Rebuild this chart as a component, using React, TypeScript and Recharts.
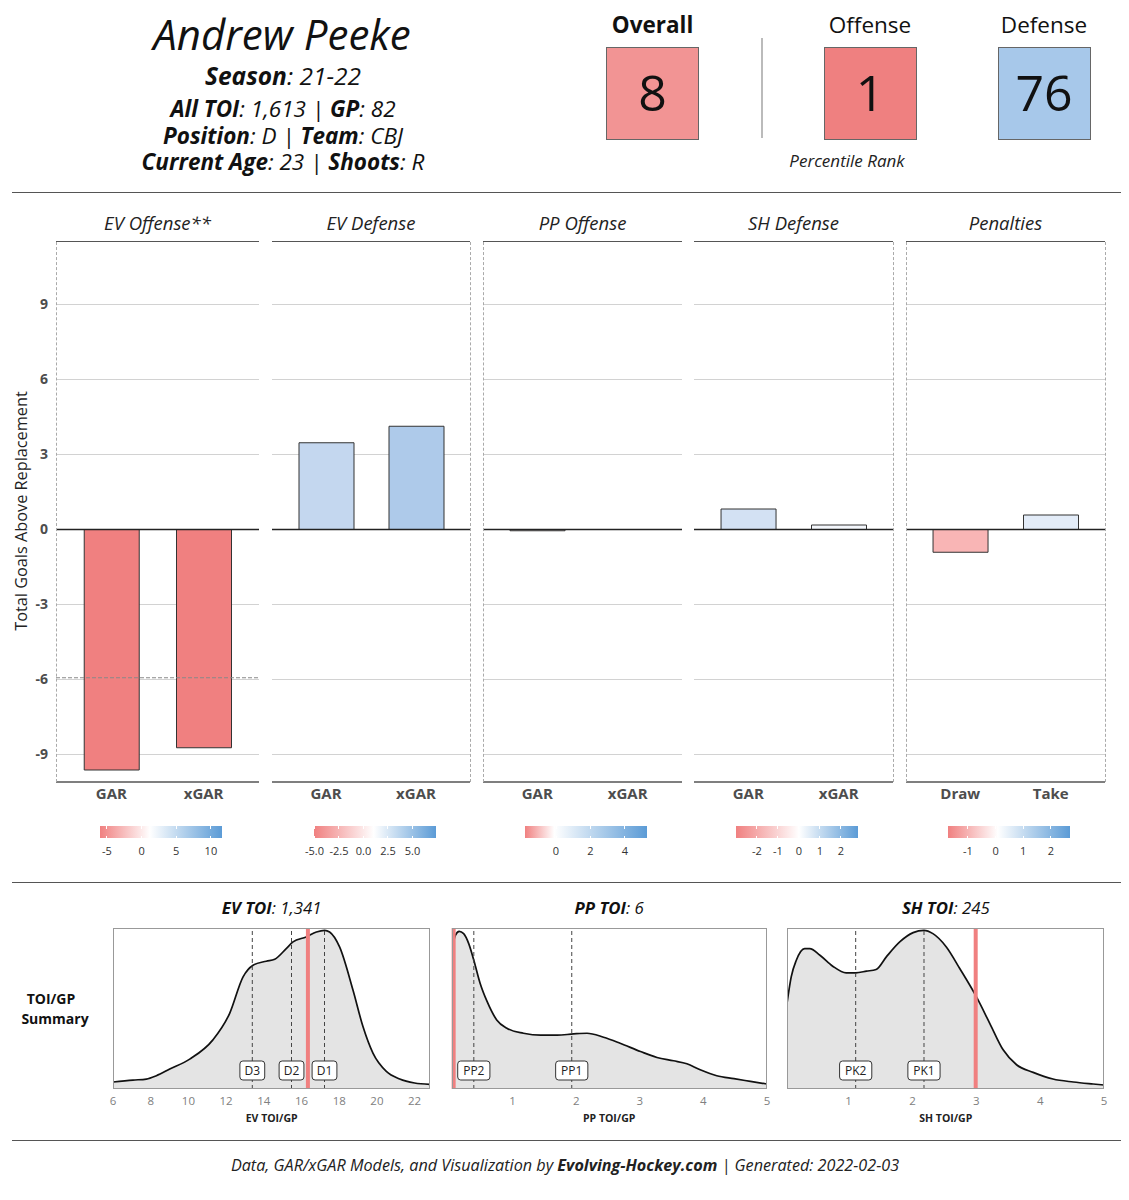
import React from "react"
import { BarChart, Bar, Cell, XAxis, YAxis, CartesianGrid, ReferenceLine, AreaChart, Area } from "recharts"

const FONT = "'Open Sans', sans-serif"

// ---- header ----
const playerName = "Andrew Peeke"
const infoLines: [string, string][][] = [
  [["Season", "21-22"]],
  [["All TOI", "1,613"], ["GP", "82"]],
  [["Position", "D"], ["Team", "CBJ"]],
  [["Current Age", "23"], ["Shoots", "R"]],
]
const rankLabels = ["Overall", "Offense", "Defense"]
const rankValues = [8, 1, 76]
const rankFills = ["#f29494", "#ef8080", "#a7c8ea"]

// ---- GAR panels ----
const panelTitles = ["EV Offense**", "EV Defense", "PP Offense", "SH Defense", "Penalties"]
const panelCats = [
  ["GAR", "xGAR"],
  ["GAR", "xGAR"],
  ["GAR", "xGAR"],
  ["GAR", "xGAR"],
  ["Draw", "Take"],
]
const panelValues = [
  [-9.62, -8.73],
  [3.47, 4.13],
  [-0.05, 0.0],
  [0.82, 0.18],
  [-0.91, 0.58],
]
const panelFills = [
  ["#f08080", "#f08080"],
  ["#c4d7ef", "#aecaea"],
  ["#fbeaea", "#ffffff"],
  ["#d3e1f3", "#f4f7fc"],
  ["#f9b5b5", "#e3ecf8"],
]
const yTicks = [-9, -6, -3, 0, 3, 6, 9]
const yDomain = [-10.1, 11.5]
const evOffenseRef = -5.93

// colour legends under each panel
const legendTicks = [
  [-5, 0, 5, 10],
  [-5, -2.5, 0, 2.5, 5],
  [0, 2, 4],
  [-2, -1, 0, 1, 2],
  [-1, 0, 1, 2],
]
const legendLimits = [
  [-6.0, 11.6],
  [-5.1, 7.35],
  [-1.8, 5.28],
  [-3.0, 2.81],
  [-1.72, 2.69],
]
const legendMid = [1.2, 1.0, -0.1, 0.0, 0.08]

// ---- TOI/GP density panels ----
const densTitles = [
  ["EV TOI", "1,341"],
  ["PP TOI", "6"],
  ["SH TOI", "245"],
]
const densAxisTitles = ["EV TOI/GP", "PP TOI/GP", "SH TOI/GP"]
const evX = [6.0, 7.06, 7.77, 8.3, 9.01, 10.07, 11.3, 12.19, 12.9, 13.43, 14.13, 14.58, 15.19, 15.55, 16.25, 16.79, 17.23, 17.49, 18.02, 18.73, 19.26, 19.79, 20.5, 21.21, 22.0, 22.8]
const evD = [0.021, 0.027, 0.03, 0.04, 0.06, 0.09, 0.148, 0.228, 0.338, 0.373, 0.385, 0.391, 0.423, 0.443, 0.458, 0.473, 0.478, 0.473, 0.428, 0.298, 0.188, 0.108, 0.053, 0.03, 0.018, 0.014]
const ppX = [0.047, 0.1, 0.16, 0.23, 0.31, 0.39, 0.49, 0.6, 0.75, 0.91, 1.17, 1.44, 1.7, 1.96, 2.17, 2.43, 2.69, 3.01, 3.27, 3.53, 3.74, 3.95, 4.21, 4.48, 4.74, 5.0]
const ppD = [0.423, 0.463, 0.475, 0.468, 0.438, 0.388, 0.318, 0.263, 0.208, 0.183, 0.168, 0.162, 0.162, 0.166, 0.168, 0.156, 0.138, 0.113, 0.095, 0.085, 0.076, 0.058, 0.04, 0.031, 0.023, 0.015]
const shX = [0.034, 0.1, 0.18, 0.31, 0.39, 0.55, 0.75, 0.96, 1.11, 1.28, 1.43, 1.59, 1.8, 2.01, 2.18, 2.32, 2.53, 2.74, 3.0, 3.21, 3.42, 3.63, 3.89, 4.2, 4.52, 4.83, 5.0]
const shD = [0.258, 0.338, 0.388, 0.423, 0.423, 0.403, 0.37, 0.35, 0.35, 0.355, 0.36, 0.398, 0.443, 0.471, 0.478, 0.468, 0.428, 0.363, 0.278, 0.198, 0.118, 0.073, 0.05, 0.03, 0.021, 0.015, 0.012]
const densXs = [evX, ppX, shX]
const densYs = [evD, ppD, shD]
const densDomains = [
  [6, 22.8],
  [0.047, 5],
  [0.034, 5],
]
const densTicks = [
  [6, 8, 10, 12, 14, 16, 18, 20, 22],
  [1, 2, 3, 4, 5],
  [1, 2, 3, 4, 5],
]
const tierNames = [
  ["D3", "D2", "D1"],
  ["PP2", "PP1"],
  ["PK2", "PK1"],
]
const tierValues = [
  [13.39, 15.47, 17.22],
  [0.39, 1.93],
  [1.11, 2.18],
]
const playerToi = [16.34, 0.073, 2.99]

// ---- layout ----
const PANEL_X = [56, 272, 483, 694, 906]
const PANEL_W = [203, 198, 199, 199, 199]
const GROUP_EDGES = [56, 470, 483, 893, 906, 1105]
const PLOT_TOP = 242
const PLOT_H = 540
const DBOX_X = [113.3, 451.7, 787.3]
const DBOX_W = [316.7, 315, 317]
const DBOX_TOP = 928
const DBOX_H = 161

function Txt({ cx, cy, fs, w = 600, children, style }: any) {
  return (
    <div
      style={{
        position: "absolute",
        left: cx - w / 2,
        width: w,
        top: cy - 0.53 * fs,
        height: fs,
        lineHeight: `${fs}px`,
        fontSize: fs,
        textAlign: "center",
        whiteSpace: "nowrap",
        ...style,
      }}
    >
      {children}
    </div>
  )
}

function HLine({ y, x1 = 12, x2 = 1121 }: any) {
  return <div style={{ position: "absolute", left: x1, top: y, width: x2 - x1, height: 1.3, background: "#555" }} />
}

function GarPanel({ i }: { i: number }) {
  const x = PANEL_X[i]
  const w = PANEL_W[i]
  const yw = i === 0 ? 48 : 0
  const data = panelCats[i].map((c, k) => ({ name: c, value: panelValues[i][k] }))
  const pad = (w * 0.1) / 2.2
  return (
    <div style={{ position: "absolute", left: x - yw, top: PLOT_TOP }}>
      <BarChart width={w + yw} height={PLOT_H + 32} data={data} margin={{ top: 0, right: 0, bottom: 0, left: 0 }}>
        <CartesianGrid vertical={false} stroke="#d2d2d2" strokeWidth={1} horizontalValues={yTicks} />
        <YAxis
          hide={i !== 0}
          width={yw}
          type="number"
          domain={yDomain}
          ticks={yTicks}
          allowDataOverflow
          tickLine={false}
          axisLine={false}
          tick={{ fill: "#4d4d4d", fontSize: 14, fontWeight: 700, fontFamily: FONT }}
        />
        <XAxis
          dataKey="name"
          padding={{ left: pad, right: pad }}
          interval={0}
          height={32}
          tickLine={false}
          tickMargin={0}
          axisLine={{ stroke: "#555", strokeWidth: 1.5 }}
          tick={{ fill: "#4d4d4d", fontSize: 15, fontWeight: 700, fontFamily: FONT }}
        />
        {i === 0 && <ReferenceLine y={evOffenseRef} stroke="#888" strokeDasharray="4 2" />}
        <Bar dataKey="value" barSize={55} stroke="#333" strokeWidth={1} isAnimationActive={false}>
          {data.map((d, k) => (
            <Cell key={d.name} fill={panelFills[i][k]} />
          ))}
        </Bar>
        <ReferenceLine y={0} stroke="#222" strokeWidth={1.5} />
      </BarChart>
    </div>
  )
}

function ColorLegend({ i }: { i: number }) {
  const barW = 122
  const left = PANEL_X[i] + PANEL_W[i] / 2 - barW / 2 + 3.5
  const [lo, hi] = legendLimits[i]
  const pos = (v: number) => ((v - lo) / (hi - lo)) * barW
  const mid = (pos(legendMid[i]) / barW) * 100
  const dec = legendTicks[i].some((t) => !Number.isInteger(t))
  return (
    <div style={{ position: "absolute", left, top: 826, width: barW, height: 30 }}>
      <div
        style={{
          position: "absolute",
          left: 0,
          top: 0,
          width: barW,
          height: 12,
          background: `linear-gradient(to right, #f08080 0%, #ffffff ${mid}%, #5b9bd6 100%)`,
        }}
      />
      {legendTicks[i].map((t) => (
        <React.Fragment key={t}>
          <div style={{ position: "absolute", left: pos(t) - 0.5, top: 0, width: 1, height: 2.5, background: "#fff" }} />
          <div style={{ position: "absolute", left: pos(t) - 0.5, top: 9.5, width: 1, height: 2.5, background: "#fff" }} />
          <div
            style={{
              position: "absolute",
              left: pos(t) - 20,
              width: 40,
              top: 19,
              fontSize: 11,
              lineHeight: "12px",
              textAlign: "center",
              color: "#333",
            }}
          >
            {dec ? t.toFixed(1) : t}
          </div>
        </React.Fragment>
      ))}
    </div>
  )
}

function TierTag({ viewBox, text }: any) {
  if (!viewBox) return null
  const w = text.length * 7.4 + 10
  const cy = viewBox.y + viewBox.height - 18.5
  return (
    <g>
      <rect x={viewBox.x - w / 2} y={cy - 9.5} width={w} height={19} rx={3} fill="#fff" stroke="#333" strokeWidth={1} />
      <text x={viewBox.x} y={cy} dy="0.36em" textAnchor="middle" fontSize={12} fill="#222" fontFamily={FONT}>
        {text}
      </text>
    </g>
  )
}

function DensityPanel({ j }: { j: number }) {
  const bx = DBOX_X[j]
  const bw = DBOX_W[j]
  const data = densXs[j].map((x, k) => ({ x, d: densYs[j][k] }))
  const m = 14
  return (
    <>
      <Txt cx={bx + bw / 2} cy={909} fs={16.8} style={{ fontStyle: "italic", color: "#111" }}>
        <b>{densTitles[j][0]}</b>: {densTitles[j][1]}
      </Txt>
      <div style={{ position: "absolute", left: bx - m, top: DBOX_TOP }}>
        <AreaChart width={bw + 2 * m} height={DBOX_H + 24} data={data} margin={{ top: 0, right: m, bottom: 0, left: m }}>
          <XAxis
            type="number"
            dataKey="x"
            domain={densDomains[j]}
            ticks={densTicks[j]}
            allowDataOverflow
            height={24}
            tickLine={false}
            axisLine={false}
            tick={{ fontSize: 11.5, fill: "#808080", fontFamily: FONT }}
          />
          <YAxis hide type="number" domain={[0, 0.485]} allowDataOverflow />
          <Area
            type="monotone"
            dataKey="d"
            stroke="#111"
            strokeWidth={1.7}
            fill="#e4e4e4"
            fillOpacity={1}
            isAnimationActive={false}
          />
          {tierValues[j].map((v, k) => (
            <ReferenceLine
              key={tierNames[j][k]}
              x={v}
              stroke="#444"
              strokeDasharray="4 3"
              label={<TierTag text={tierNames[j][k]} />}
            />
          ))}
          <ReferenceLine x={playerToi[j]} stroke="#f08080" strokeWidth={4} />
        </AreaChart>
      </div>
      <div
        style={{
          position: "absolute",
          left: bx,
          top: DBOX_TOP,
          width: bw,
          height: DBOX_H,
          border: "1px solid #999",
          boxSizing: "border-box",
          pointerEvents: "none",
        }}
      />
      <Txt cx={bx + bw / 2} cy={1119} fs={10.5} style={{ fontWeight: 700, color: "#222" }}>
        {densAxisTitles[j]}
      </Txt>
    </>
  )
}

export default function App() {
  return (
    <div style={{ position: "relative", width: 1129, height: 1200, background: "#fff", fontFamily: FONT, color: "#111" }}>
      <style>{"body{margin:0;}"}</style>

      {/* player info */}
      <Txt cx={282} cy={35} fs={42} style={{ fontStyle: "italic" }}>
        {playerName}
      </Txt>
      {infoLines.map((line, li) => (
        <Txt key={li} cx={283} cy={[77, 110, 137, 163][li]} fs={li === 0 ? 24.5 : 22.5} style={{ fontStyle: "italic" }}>
          {line.map(([k, v], n) => (
            <React.Fragment key={k}>
              {n > 0 && " | "}
              <b>{k}</b>: {v}
            </React.Fragment>
          ))}
        </Txt>
      ))}

      {/* percentile boxes */}
      {rankLabels.map((lab, r) => {
        const cx = [652.5, 870, 1044][r]
        return (
          <React.Fragment key={lab}>
            <Txt cx={cx} cy={25.5} fs={22.5} style={{ fontWeight: r === 0 ? 700 : 400 }}>
              {lab}
            </Txt>
            <div
              style={{
                position: "absolute",
                left: cx - 46.5,
                top: 47,
                width: 93,
                height: 93,
                boxSizing: "border-box",
                border: "1px solid #666",
                background: rankFills[r],
              }}
            />
            <Txt cx={cx} cy={93.5} fs={50}>
              {rankValues[r]}
            </Txt>
          </React.Fragment>
        )
      })}
      <div style={{ position: "absolute", left: 761, top: 38, width: 1.5, height: 100, background: "#bbb" }} />
      <Txt cx={847} cy={161} fs={17} style={{ fontStyle: "italic", color: "#222" }}>
        Percentile Rank
      </Txt>

      <HLine y={191.5} />

      {/* GAR panels */}
      {panelTitles.map((t, i) => (
        <React.Fragment key={t}>
          <Txt cx={PANEL_X[i] + PANEL_W[i] / 2} cy={223.5} fs={18.5} style={{ fontStyle: "italic", color: "#222" }}>
            {t}
          </Txt>
          <div style={{ position: "absolute", left: PANEL_X[i], top: 240.5, width: PANEL_W[i], height: 1.5, background: "#555" }} />
        </React.Fragment>
      ))}
      {panelTitles.map((t, i) => (
        <GarPanel key={t} i={i} />
      ))}
      {GROUP_EDGES.map((x) => (
        <div
          key={x}
          style={{ position: "absolute", left: x - 0.5, top: PLOT_TOP, width: 0, height: PLOT_H, borderLeft: "1px dashed #aaa" }}
        />
      ))}
      <div
        style={{
          position: "absolute",
          left: 21 - 150,
          top: 511 - 8,
          width: 300,
          height: 16,
          lineHeight: "16px",
          fontSize: 16.3,
          textAlign: "center",
          transform: "rotate(-90deg)",
          color: "#222",
        }}
      >
        Total Goals Above Replacement
      </div>
      {panelTitles.map((t, i) => (
        <ColorLegend key={t} i={i} />
      ))}

      <HLine y={881.5} />

      {/* TOI/GP densities */}
      <Txt cx={51} cy={999} fs={14} style={{ fontWeight: 700 }}>
        TOI/GP
      </Txt>
      <Txt cx={55} cy={1019} fs={14} style={{ fontWeight: 700 }}>
        Summary
      </Txt>
      {densTitles.map((d, j) => (
        <DensityPanel key={d[0]} j={j} />
      ))}

      <HLine y={1139.5} />
      <Txt cx={565} cy={1166} fs={16.2} w={1000} style={{ fontStyle: "italic", color: "#222" }}>
        Data, GAR/xGAR Models, and Visualization by <b>Evolving-Hockey.com</b> | Generated: 2022-02-03
      </Txt>
    </div>
  )
}
